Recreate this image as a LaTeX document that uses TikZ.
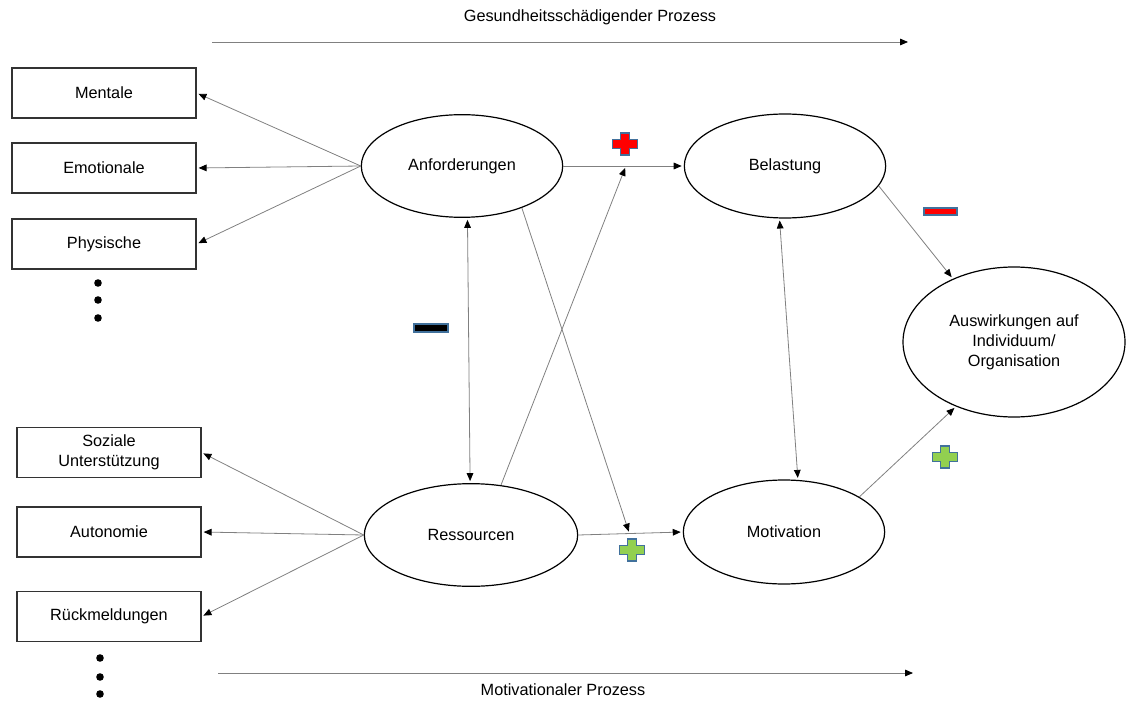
\documentclass[tikz,border=0pt]{standalone}
\usepackage{fontspec}
\setmainfont{Liberation Sans}
\usetikzlibrary{arrows.meta, shapes.geometric}

\definecolor{signedge}{HTML}{41719C}
\definecolor{signgreen}{HTML}{92D050}

\tikzset{
  stage/.style = {draw, ellipse, line width = 0.9pt, inner sep = 0pt, align = center},
  facet/.style = {draw = black!80, line width = 0.9pt, minimum width = 138pt,
                  minimum height = 37.5pt, inner sep = 0pt, align = center},
  link/.style = {draw = gray, line width = 0.6pt, shorten > = 1.5pt},
  sign/.style = {draw = signedge, line width = 1pt},
  pics/plusmark/.style = {code = {
    \filldraw[sign, fill = #1]
      (-4.5, -11) -- (4.5, -11) -- (4.5, -4.5) -- (12.5, -4.5) -- (12.5, 4.5)
      -- (4.5, 4.5) -- (4.5, 11) -- (-4.5, 11) -- (-4.5, 4.5) -- (-12.5, 4.5)
      -- (-12.5, -4.5) -- (-4.5, -4.5) -- cycle;
  }}
}

\begin{document}
\begin{tikzpicture}[x = 0.75pt, y = -0.75pt, font = \fontsize{12.2}{15}\selectfont,
    > = {Triangle[length = 6pt, width = 5pt, color = black]}]
  \useasboundingbox (0, 0) rectangle (1127, 702);

  % processes
  \coordinate (gtail) at (212, 42);
  \coordinate (ghead) at (910, 42);
  \draw[link] [->] (gtail) -- (ghead);
  \node (glabel) at (590, 17) {Gesundheitsschädigender Prozess};
  \coordinate (mtail) at (218, 673);
  \coordinate (mhead) at (915, 673);
  \draw[link] [->] (mtail) -- (mhead);
  \node (mlabel) at (563, 690) {Motivationaler Prozess};

  % ellipses
  \node[stage, minimum width = 151pt, minimum height = 77pt] (anf) at (462, 166) {Anforderungen};
  \node[stage, minimum width = 151pt, minimum height = 78pt] (bel) at (785, 166) {Belastung};
  \node[stage, minimum width = 160pt, minimum height = 77pt] (res) at (471, 535) {Ressourcen};
  \node[stage, minimum width = 151pt, minimum height = 78pt] (mot) at (784, 532) {Motivation};
  \node[stage, minimum width = 166.5pt, minimum height = 112.5pt] (ausw) at (1014, 342)
    {Auswirkungen auf\\Individuum/\\Organisation};

  % boxes
  \node[facet] (mentale) at (104, 93) {Mentale};
  \node[facet] (emot) at (104, 168) {Emotionale};
  \node[facet] (phys) at (104, 244) {Physische};
  \node[facet] (sozial) at (109, 452.5) {Soziale\\Unterstützung};
  \node[facet] (auton) at (109, 532) {Autonomie};
  \node[facet] (rueck) at (109, 616.5) {Rückmeldungen};

  \foreach \y in {283, 300, 318} \fill (98, \y) circle (3.8);
  \foreach \y in {658, 677, 694} \fill (100, \y) circle (3.8);

  % connectors
  \foreach \b in {mentale, emot, phys} \draw[link] [->] (anf.west) -- (\b.east);
  \foreach \b in {sozial, auton, rueck} \draw[link] [->] (res.west) -- (\b.east);

  \path (anf.east) -- (bel.west) coordinate[pos = 0.52] (rbhit);
  \path (res.east) -- (mot.west) coordinate[pos = 0.49] (amhit);
  \draw[link] [->] (anf.east) -- (bel.west);
  \draw[link] [->] (res.east) -- (mot.west);
  \draw[link] [->] (res.59) -- (rbhit);
  \draw[link] [->] (anf.-35) -- (amhit);
  \draw[link, shorten < = 1.5pt] [<->] (anf.-84) -- (res.91);
  \draw[link, shorten < = 1.5pt] [<->] (bel.-96) -- (mot.75);
  \draw[link] [->] (bel.-12) -- (ausw.134);
  \draw[link] [->] (mot.25) -- (ausw.228);

  % signs
  \pic at (625, 144) {plusmark = red};
  \pic at (632, 550) {plusmark = signgreen};
  \pic at (945, 457) {plusmark = signgreen};
  \filldraw[sign, fill = black] (414, 324) rectangle (448, 332);
  \filldraw[sign, fill = red] (924, 208) rectangle (957, 215);
\end{tikzpicture}
\end{document}
